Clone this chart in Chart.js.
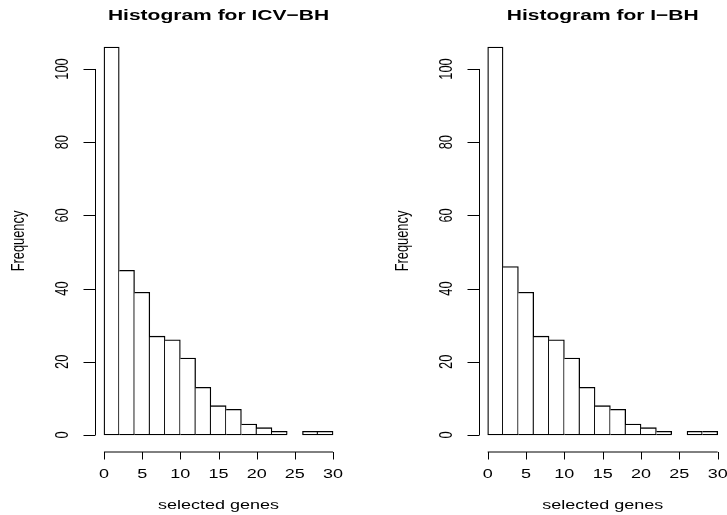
<!DOCTYPE html>
<html>
<head>
<meta charset="utf-8">
<script src="https://cdn.jsdelivr.net/npm/chart.js@4"></script>
<style>
  body { margin: 0; background: #fff; }
  #wrap { position: relative; width: 727px; height: 515px; }
  canvas { position: absolute; top: 0; }
</style>
</head>
<body>
<div id="wrap">
  <canvas id="left" width="382" height="515" style="left:0"></canvas>
  <canvas id="right" width="345" height="515" style="left:382px"></canvas>
</div>
<script>
// histogram bins (width 2, midpoints)
const binMids = [1, 3, 5, 7, 9, 11, 13, 15, 17, 19, 21, 23, 25, 27, 29];
const icvCounts = [106, 45, 39, 27, 26, 21, 13, 8, 7, 3, 2, 1, 0, 1, 1];
const iCounts = [106, 46, 39, 27, 26, 21, 13, 8, 7, 3, 2, 1, 0, 1, 1];
const xTicks = [0, 5, 10, 15, 20, 25, 30];
const yTicks = [0, 20, 40, 60, 80, 100];

// the picture looks stretched sideways, so text is drawn stretched too
const SX = 1.5, SY = 1.07;
const EDGE = 1.3;

function stretchText(ctx, text, x, y, font, vertical) {
    ctx.save();
    ctx.translate(x, y);
    if (vertical) {
        ctx.rotate(-Math.PI / 2);
        ctx.scale(SY, SX);
    } else {
        ctx.scale(SX, SY);
    }
    ctx.font = font;
    ctx.fillStyle = '#000';
    ctx.textAlign = 'center';
    ctx.textBaseline = 'middle';
    ctx.fillText(text, 0, 0);
    ctx.restore();
}

// R style axes: line only across the tick range, ticks pointing out
const rAxes = {
    id: 'rAxes',
    afterDraw(chart, args, opts) {
        const ctx = chart.ctx;
        const xs = chart.scales.x, ys = chart.scales.y;
        const area = chart.chartArea;
        ctx.save();
        ctx.strokeStyle = '#000';
        ctx.lineWidth = 1;

        // x axis
        const yLine = area.bottom + 1.5;
        ctx.beginPath();
        ctx.moveTo(xs.getPixelForValue(xTicks[0]), yLine);
        ctx.lineTo(xs.getPixelForValue(xTicks[xTicks.length - 1]), yLine);
        xTicks.forEach(t => {
            const px = Math.round(xs.getPixelForValue(t)) + 0.5;
            ctx.moveTo(px, yLine);
            ctx.lineTo(px, yLine + 7.5);
        });
        ctx.stroke();
        xTicks.forEach(t => {
            stretchText(ctx, String(t), xs.getPixelForValue(t), yLine + 22, '12px "Liberation Sans", Arial', false);
        });

        // y axis
        const xLine = Math.round(area.left) + 0.5;
        ctx.beginPath();
        ctx.moveTo(xLine, ys.getPixelForValue(yTicks[0]));
        ctx.lineTo(xLine, ys.getPixelForValue(yTicks[yTicks.length - 1]));
        yTicks.forEach(t => {
            const py = Math.round(ys.getPixelForValue(t)) + 0.5;
            ctx.moveTo(xLine, py);
            ctx.lineTo(xLine - 12, py);
        });
        ctx.stroke();
        yTicks.forEach(t => {
            stretchText(ctx, String(t), xLine - 32, ys.getPixelForValue(t), '12px "Liberation Sans", Arial', true);
        });

        // axis titles and main title
        const cx = (area.left + area.right) / 2;
        const cy = (area.top + area.bottom) / 2;
        stretchText(ctx, 'selected genes', cx, 505, '12px "Liberation Sans", Arial', false);
        stretchText(ctx, 'Frequency', xLine - 76, cy, '12px "Liberation Sans", Arial', true);
        stretchText(ctx, opts.title, cx, 16, 'bold 14px "Liberation Sans", Arial', false);
        ctx.restore();
    }
};

function makeHist(id, title, counts, padLeft, padRight) {
    const last = counts.length - 1;
    new Chart(document.getElementById(id), {
        type: 'bar',
        data: {
            datasets: [{
                data: binMids.map((m, i) => ({ x: m, y: counts[i] })),
                backgroundColor: '#fff',
                borderColor: '#000',
                // shared edges drawn once
                borderWidth: c => ({
                    top: EDGE,
                    bottom: EDGE,
                    left: (c.dataIndex === 0 || counts[c.dataIndex - 1] < counts[c.dataIndex]) ? EDGE : 0,
                    right: (c.dataIndex === last || counts[c.dataIndex + 1] <= counts[c.dataIndex]) ? EDGE : 0
                }),
                borderSkipped: false,
                barPercentage: 1,
                categoryPercentage: 1
            }]
        },
        options: {
            responsive: false,
            animation: false,
            layout: { padding: { left: padLeft, right: padRight, top: 31.5, bottom: 64.5 } },
            plugins: {
                legend: { display: false },
                tooltip: { enabled: false },
                rAxes: { title: title }
            },
            scales: {
                x: { type: 'linear', min: -1.2, max: 31.2, display: false, offset: false },
                y: { min: -4.24, max: 110.24, display: false }
            }
        },
        plugins: [rAxes]
    });
}

makeHist('left', 'Histogram for ICV\u2212BH', icvCounts, 94.8, 39.8);
makeHist('right', 'Histogram for I\u2212BH', iCounts, 96.5, 0.1);
</script>
</body>
</html>
